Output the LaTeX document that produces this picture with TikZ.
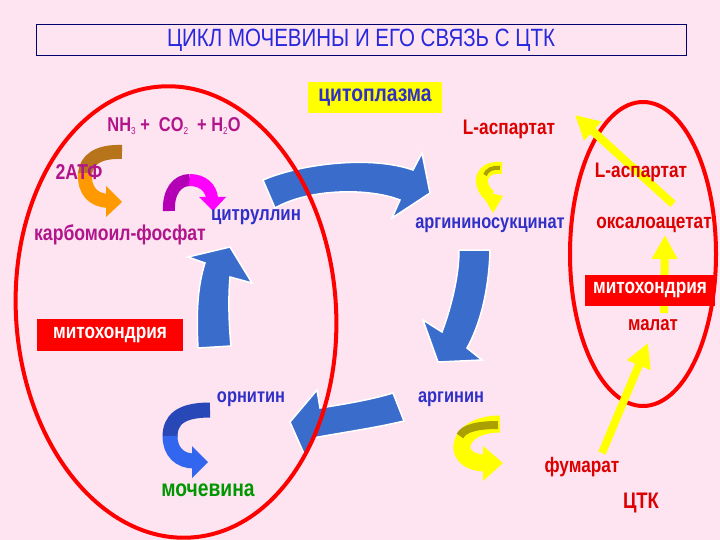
\documentclass[tikz,border=0pt]{standalone}
\usepackage{fontspec}
\setmainfont{Liberation Sans}
\newfontfamily\lab[FakeStretch=0.82]{Liberation Sans}
\usetikzlibrary{arrows.meta}
\definecolor{bgpink}{RGB}{253,228,240}
\definecolor{arrowblue}{RGB}{58,108,204}
\definecolor{txtblue}{RGB}{48,48,200}
\definecolor{magtxt}{RGB}{178,20,140}
\definecolor{redc}{RGB}{255,0,0}
\definecolor{redtxt}{RGB}{220,0,0}
\definecolor{greentxt}{RGB}{0,150,0}
\definecolor{titleblue}{RGB}{40,40,220}
\definecolor{navy}{RGB}{0,0,110}
\definecolor{brownc}{RGB}{184,116,26}
\definecolor{orangec}{RGB}{255,153,0}
\definecolor{purplec}{RGB}{180,0,180}
\definecolor{magc}{RGB}{255,0,255}
\definecolor{olivec}{RGB}{170,160,0}
\definecolor{yellowc}{RGB}{255,255,0}
\definecolor{darkblue}{RGB}{40,72,184}
\definecolor{lightblue}{RGB}{51,102,238}
\newcommand\sbs[1]{\raisebox{-0.35ex}{\fontsize{10}{10}\selectfont\mdseries #1}}
\begin{document}
\begin{tikzpicture}[x=1pt,y=-1pt,
  lbl/.style={font=\lab\bfseries\fontsize{#1}{#1}\selectfont, inner sep=0pt},
  lbl/.default=20,
  bigarrow/.style={fill=arrowblue, draw=white, line width=1.5pt, line join=miter},
  band/.style={line width=#1, line cap=butt},
  yarrow/.style={draw=yellowc, line width=8pt, -{Triangle[length=24pt,width=24pt]}},
  redbox/.style={fill=redc, text=white, lbl=21, minimum height=31pt},
  ring/.style={draw=redc, line width=4pt}]
\fill[bgpink] (0,0) rectangle (720,540);
\useasboundingbox (0,0) rectangle (720,540);

% title
\node[draw=navy, line width=1pt, minimum width=650pt, minimum height=31pt,
      text=titleblue, font=\lab\fontsize{25}{25}\selectfont, inner sep=0pt]
      (title) at (361,40.5) {ЦИКЛ МОЧЕВИНЫ И ЕГО СВЯЗЬ С ЦТК};

% big blue cycle arrows
\path[bigarrow] (263,180) .. controls (300,164) and (370,155) .. (413,170) -- (422,153) -- (430,193) -- (392,218) -- (400,200) .. controls (370,188) and (310,188) .. (275,208) -- cycle;
\path[bigarrow] (459,250) -- (490,250) .. controls (489,290) and (480,325) .. (467,348) -- (482,360) -- (438,362) -- (423,320) -- (442,332) .. controls (452,305) and (459,275) .. (459,250) -- cycle;
\path[bigarrow] (393,393) .. controls (370,400) and (345,404) .. (320,408) -- (317,390) -- (290,422) -- (305,456) -- (313,438) .. controls (345,432) and (375,428) .. (404,421) -- cycle;
\path[bigarrow] (198,348) .. controls (196,310) and (198,285) .. (205,263) -- (188,257) -- (230,247) -- (252,283) -- (230,277) .. controls (228,300) and (229,325) .. (231,346) -- cycle;

% small curved arrows
% brown/orange
\draw[band=14pt, brownc] (122,152) .. controls (98,151) and (86,160) .. (85,174);
\draw[band=14pt, orangec] (85,173) .. controls (84,192) and (94,200) .. (108,201);
\fill[orangec] (106,186) -- (122,202) -- (106,217) -- cycle;
% purple/magenta
\draw[band=12pt, purplec] (169,211) .. controls (168,192) and (177,180) .. (190,180);
\draw[band=12pt, magc] (189.5,180) .. controls (203,180) and (211,188) .. (212,198);
\fill[magc] (199,197) -- (226,197) -- (213,211) -- cycle;
% yellow near argininosuccinate
\draw[band=12pt, yellowc] (502,168) .. controls (480,166) and (476,184) .. (490,196);
\draw[band=4pt, olivec] (500,168) .. controls (492,167) and (487,170) .. (485,175);
\fill[yellowc] (480,191) -- (503,196) -- (493,213) -- cycle;
% yellow near arginine
\draw[band=17pt, yellowc] (500,424) .. controls (455,424) and (450,462) .. (484,463);
\draw[band=8pt, olivec] (498,425) .. controls (478,425) and (464,428) .. (460,436);
\fill[yellowc] (483,446) -- (503,463) -- (483,481) -- cycle;
% blue near ornithine
\draw[band=15pt, darkblue] (210,410) .. controls (180,410) and (170,420) .. (170,437);
\draw[band=15pt, lightblue] (170,436) .. controls (170,452) and (180,461) .. (194,461);
\fill[lightblue] (192,446) -- (208,462) -- (192,478) -- cycle;

% red rings
\draw[ring, rotate around={4:(176,312)}] (176,312) ellipse (160 and 226);
\draw[ring] (643,254) ellipse (73 and 152);

% coordinates for yellow straight arrows
\coordinate (oxa) at (673,204);
\coordinate (asp) at (575,115);
\coordinate (mfoot) at (664,313);
\coordinate (mtip) at (665,235);
\coordinate (fum) at (602,453);
\coordinate (mal) at (648,343);
\draw[yarrow] (oxa) -- (asp);
\draw[yarrow] (mfoot) -- (mtip);
\draw[yarrow] (fum) -- (mal);

% labels
\node[fill=yellowc, text=txtblue, lbl=23.5, minimum width=134pt, minimum height=31pt] (cyto) at (375,98) {цитоплазма};
\node[lbl, text=magtxt] (nh3) at (174,126) {NH\sbs{3} + \ CO\sbs{2} \ + H\sbs{2}O};
\node[lbl=21.5, text=magtxt] (atp) at (79,172) {2АТФ};
\node[lbl=21.5, text=magtxt] (carb) at (120,235) {карбомоил-фосфат};
\node[lbl=20.5, text=txtblue] (citr) at (256,217) {цитруллин};
\node[lbl=20, text=txtblue] (argsuc) at (490,225) {аргининосукцинат};
\node[lbl=21, text=redtxt] (asp1) at (509,129) {L-аспартат};
\node[lbl=21, text=redtxt] (asp2) at (641,172) {L-аспартат};
\node[lbl=21, text=redtxt] (oxal) at (654,225) {оксалоацетат};
\node[redbox, minimum width=130pt] (mito2) at (650,290) {митохондрия};
\node[lbl=20.5, text=redtxt] (malat) at (653,325) {малат};
\node[lbl=20, text=txtblue] (arg) at (451,399) {аргинин};
\node[lbl=20, text=txtblue] (orn) at (251,399) {орнитин};
\node[lbl=21, text=redtxt] (fumar) at (582,467) {фумарат};
\node[lbl=22.5, text=redtxt] (ctk) at (641,503) {ЦТК};
\node[lbl=23.5, text=greentxt] (urea) at (208,490) {мочевина};
\node[redbox, minimum width=146pt, minimum height=32pt] (mito1) at (110,335) {митохондрия};
\end{tikzpicture}
\end{document}
